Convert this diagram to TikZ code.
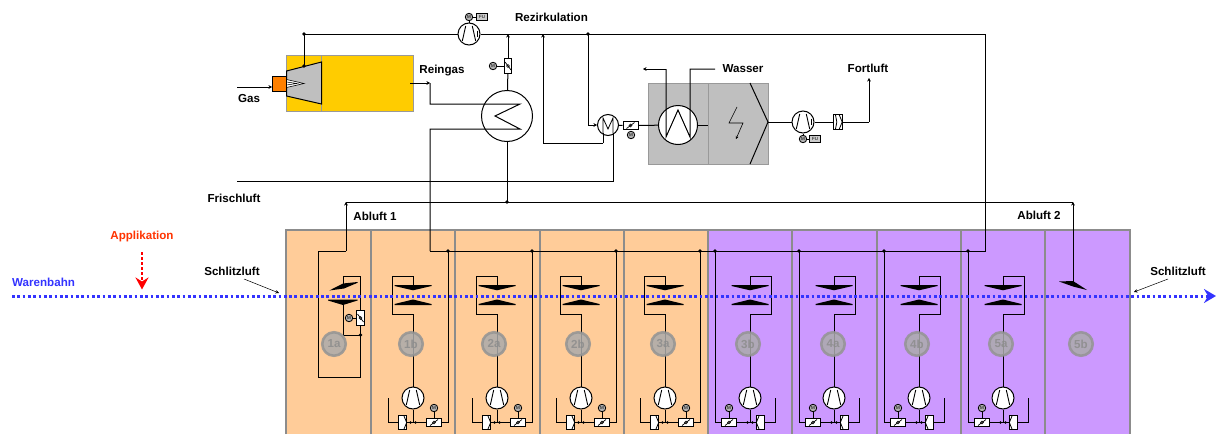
\documentclass[tikz,border=0pt]{standalone}
\usepackage{fontspec}
\setmainfont{Liberation Sans}
\usepackage{xcolor}
\usetikzlibrary{arrows.meta,calc}

\definecolor{zoneorange}{HTML}{FFCC99}
\definecolor{zonepurple}{HTML}{CC99FF}
\definecolor{burneryellow}{HTML}{FFCC00}
\definecolor{webblue}{HTML}{3333FF}
\definecolor{appred}{HTML}{FF3300}

\tikzset{
	pipe/.style={line width=1pt},
	flow/.style={line width=1pt,-{Stealth[length=3.5pt,width=3.8pt]}},
	joint/.style={circle,fill=black,inner sep=0pt,minimum size=3.6pt},
	lbl/.style={font=\bfseries\fontsize{11.6}{13}\selectfont,inner sep=0pt},
	zonebox/.style={draw=black!45,line width=1.3pt},
	unitbox/.style={draw=black!40,line width=1pt,fill=black!25},
	exchanger/.style={circle,draw,fill=white,line width=1pt,inner sep=0pt,minimum size=#1},
	blower/.style={circle,draw,fill=white,line width=1pt,inner sep=0pt,minimum size=22pt,
		path picture={\begin{scope}[shift={(path picture bounding box.center)},rotate=#1]
			\draw[line width=0.9pt] (-3.3,-8) -- (-6.7,7) (3.3,-8) -- (6.7,7);
		\end{scope}}},
	blower/.default=0,
	motor/.style={circle,draw,fill=black!30,line width=0.8pt,inner sep=0pt,minimum size=7.5pt,
		font=\fontsize{4.5}{5}\selectfont},
	fubox/.style={draw,fill=black!20,line width=0.6pt,inner sep=0pt,minimum width=11pt,minimum height=7pt,
		font=\fontsize{4.5}{5}\selectfont},
	damperh/.style={rectangle,draw,fill=white,line width=1pt,inner sep=0pt,minimum width=15pt,minimum height=7.5pt,
		path picture={\draw[line width=0.7pt] ($(path picture bounding box.center)+(-4,3)$) -- ($(path picture bounding box.center)+(4,-3)$);
			\draw[line width=0.6pt] (path picture bounding box.center) circle (1.5pt);}},
	damperv/.style={rectangle,draw,fill=white,line width=1pt,inner sep=0pt,minimum width=7.5pt,minimum height=14.5pt,
		path picture={\draw[line width=0.7pt] ($(path picture bounding box.center)+(-3,-4)$) -- ($(path picture bounding box.center)+(3,4)$);
			\draw[line width=0.6pt] (path picture bounding box.center) circle (1.5pt);}},
	chevbox/.style={rectangle,draw,fill=white,line width=1pt,inner sep=0pt,minimum width=8.5pt,minimum height=14.5pt,
		path picture={\draw[line width=0.8pt] ($(path picture bounding box.center)+({#1*1.2},-7.2)$) -- ($(path picture bounding box.center)+({#1*4.2},0)$) -- ($(path picture bounding box.center)+({#1*1.2},7.2)$);}},
	zonemark/.style={circle,draw=black!42,fill=black!33,line width=2.6pt,opacity=.85,inner sep=0pt,minimum size=23.5pt,
		text=black!45,font=\bfseries\fontsize{11.6}{13}\selectfont}
}

\begin{document}
\begin{tikzpicture}[x=1pt,y=-1pt]
	\useasboundingbox (0,0) rectangle (1216,434);
	
	% Zones below the web
	\fill[zoneorange] (286,230) rectangle (708,434);
	\fill[zonepurple] (708,230) rectangle (1130,434);
	\draw[zonebox] (286,434) -- (286,230) -- (1130,230) -- (1130,434);
	\foreach \zx in {371,455,540,624,708,792,877,961,1045}
		\draw[zonebox] (\zx,230) -- (\zx,434);
	
	% Burner chamber
	\draw[draw=black!40,line width=1pt,fill=burneryellow] (286.5,55) rectangle (413,111);
	\draw[black!40,line width=1pt] (321.5,55) -- (321.5,111);
	\draw[line width=1pt,fill=black!25] (286.5,71) -- (321.5,62) -- (321.5,104) -- (286.5,96) -- cycle;
	\node[draw,fill=orange,line width=1pt,inner sep=0pt,minimum width=14pt,minimum height=15pt] (burner) at (279.5,83.5) {};
	\draw[line width=0.6pt,fill=white] (286.5,79.5) -- (304,83.5) -- (286.5,87.5) -- cycle;
	\draw[line width=0.5pt] (286.5,82) -- (297,83.5) -- (286.5,85);
	\coordinate (gasIn) at (237,87);
	\draw[flow] (gasIn) -- (burner.west |- gasIn);
	
	% Recirculation line with fan
	\coordinate (recA) at (304,34);
	\coordinate (recB) at (304,66);
	\coordinate (recC) at (985,34);
	\coordinate (recD) at (985,251);
	\coordinate (recE) at (430,251);
	\node[blower=-90] (fanrec) at (469,34) {};
	\node[motor] (motrec) at (469,17) {M};
	\node[fubox] (furec) at (482,17) {FU};
	\draw[pipe] (recB) -- (recA) -- (fanrec) -- (recC) -- (recD) -- (recE);
	\draw[pipe] (motrec) -- (fanrec);
	\draw[pipe] (motrec) -- (furec);
	\draw[line width=0.8pt] ($(fanrec)+(8,-3.3)$) -- ($(fanrec)+(8,3.3)$);
	\node[joint] at (recA) {};
	\node[joint] at (recB) {};
	
	% Main heat exchanger
	\node[exchanger=51pt] (hx) at (507,116) {};
	\node[damperv] (dmphx) at (508,66) {};
	\node[motor] (mothx) at (493,66) {M};
	\coordinate (hxTop) at (508,34);
	\coordinate (hxBot) at (507,202);
	\coordinate (reinA) at (410,83);
	\coordinate (reinB) at (430,83);
	\draw[flow] (reinA) -- (reinB);
	\draw[pipe] (reinB) -- (430,104) -- (520,104) -- (495,116) -- (520,129) -- (430,129) -- (recE);
	\draw[pipe] (hx) -- (dmphx);
	\draw[flow] (dmphx) -- (hxTop);
	\draw[pipe] (mothx) -- (dmphx);
	\draw[pipe] (hx) -- (hxBot);
	
	% Branches from the recirculation line to the small exchanger
	\node[exchanger=21pt] (hxs) at (608,125) {};
	\draw[line width=0.8pt] (603,133) -- (603,118) -- (608,129) -- (613,118) -- (613,133);
	\coordinate (byA) at (543,34);
	\coordinate (byB) at (543,143);
	\coordinate (byC) at (603,143);
	\coordinate (byD) at (588,34);
	\coordinate (byE) at (588,125);
	\draw[flow] (byC) -- (byB) -- (byA);
	\draw[pipe] (hxs.south west -| byC) -- (byC);
	\draw[flow] (byD) -- (byE) -- (hxs.west);
	\node[joint] at (byD) {};
	
	% Fresh air
	\coordinate (frischA) at (237,181);
	\coordinate (frischB) at (613,181);
	\draw[pipe] (frischA) -- (frischB) -- (hxs.south east -| frischB);
	
	% Scrubber with water exchanger and filter
	\draw[unitbox] (648,83) rectangle (708,164);
	\draw[unitbox] (708,83) rectangle (768,164);
	\draw[line width=1pt] (750,83) -- (768,122) -- (750,164);
	\draw[line width=0.6pt,-{Stealth[length=3pt,width=3pt]}] (737,107) -- (729,123) -- (743,123) -- (736,139);
	\node[exchanger=39pt] (hxw) at (678,125) {};
	\node[damperh] (dmpw) at (630.5,125.5) {};
	\node[motor] (motw) at (631,135) {M};
	\coordinate (wasA) at (643,69);
	\coordinate (wasB) at (666,69);
	\coordinate (wasC) at (690,69);
	\coordinate (wasD) at (715,69);
	\draw[pipe] (hxs) -- (dmpw);
	\draw[pipe] (dmpw) -- (hxw);
	\draw[pipe] (hxw) -- (708,125);
	\draw[pipe] (wasD) -- (wasC) -- (690,137) -- (678,110) -- (666,137) -- (wasB);
	\draw[flow] (wasB) -- (wasA);
	
	% Exhaust
	\node[blower=-90] (fanfort) at (803,122) {};
	\node[motor] (motfort) at (803,139) {M};
	\node[fubox] (fufort) at (815,139) {FU};
	\node[chevbox=1] (silfort) at (838,122) {};
	\draw[line width=0.8pt] (835.5,115) -- (836.8,122) -- (835.5,129);
	\coordinate (fortA) at (869,122);
	\coordinate (fortB) at (869,78);
	\draw[pipe] (768,122) -- (fanfort);
	\draw[pipe] (fanfort) -- (silfort);
	\draw[pipe] (motfort) -- (fanfort);
	\draw[pipe] (motfort) -- (fufort);
	\draw[line width=0.8pt] ($(fanfort)+(8,-3.3)$) -- ($(fanfort)+(8,3.3)$);
	\draw[pipe] (silfort) -- (fortA);
	\draw[flow] (fortA) -- (fortB);
	
	% Exhaust collectors
	\coordinate (ablA) at (346,202);
	\coordinate (ablB) at (1073,202);
	\coordinate (ablC) at (1073,284);
	\coordinate (ablD) at (346,251);
	\draw[pipe] (ablA) -- (ablB);
	\draw[flow] (ablC) -- (ablB);
	\node[joint] at (hxBot) {};
	
	% Zone 1a
	\node[damperv] (dmp1a) at (360.5,318) {};
	\node[motor] (mot1a) at (349,318) {M};
	\coordinate (boxA) at (343,276);
	\coordinate (boxB) at (360.5,276);
	\coordinate (boxC) at (343,335);
	\coordinate (boxD) at (360.5,335);
	\coordinate (boxE) at (360.5,377);
	\coordinate (boxF) at (318,377);
	\coordinate (boxG) at (318,251);
	\draw[flow] (ablD) -- (ablA);
	\draw[pipe] (ablD) -- (boxG) -- (boxF) -- (boxE) -- (boxD) -- (dmp1a) -- (boxB) -- (boxA) -- (343,285);
	\draw[pipe] (343,304) -- (boxC) -- (boxD);
	\draw[pipe] (mot1a) -- (dmp1a);
	\node[joint] at (boxD) {};
	\fill (329.3,290.5) -- (343,283.5) -- (357.5,282) -- (357.5,282.8) -- (344,288.5) -- cycle;
	\fill (328,299.5) -- (357.5,299.5) -- (357.5,300.5) -- (343,305) -- (328,300.5) -- cycle;
	
	% Zones 1b to 5a
	\foreach \zn/\sx/\flip in {1b/413/1,2a/497/1,2b/581/1,3a/665/1,3b/750/-1,4a/834/-1,4b/919/-1,5a/1003/-1}{
		\coordinate (top\zn) at (\sx,276);
		\coordinate (foot\zn) at (\sx,422.5);
		\coordinate (main\zn) at ({\sx+\flip*35},251);
		\coordinate (low\zn) at ({\sx+\flip*35},422.5);
		\coordinate (end\zn) at ({\sx-\flip*25},422.5);
		\coordinate (up\zn) at ({\sx-\flip*25},398);
		\node[blower] (fan\zn) at (\sx,398) {};
		\node[damperh] (dmp\zn) at ({\sx+\flip*21},422.5) {};
		\node[motor] (mot\zn) at ({\sx+\flip*21},408) {M};
		\node[chevbox=\flip] (chv\zn) at ({\sx-\flip*10.5},422.5) {};
		\draw[pipe] (\sx,289) -- (top\zn) -- ++({-\flip*21},0) -- ++(0,38) -- ++({\flip*21},0) -- (fan\zn);
		\draw[pipe] (fan\zn) -- (foot\zn);
		\draw[pipe] (mot\zn) -- (dmp\zn);
		\draw[pipe] (chv\zn) -- (dmp\zn);
		\draw[pipe] (dmp\zn) -- (low\zn) -- (main\zn);
		\draw[pipe] (chv\zn) -- (end\zn) -- (up\zn);
		\node[joint] at (main\zn) {};
		\node[joint,minimum size=2.8pt] at ({\sx-2.5},422.5) {};
		\node[joint,minimum size=2.8pt] at ({\sx+2.5},422.5) {};
		\fill (\sx-18.5,285) -- (\sx+18.5,285) -- (\sx+18.5,286) -- (\sx,290.3) -- (\sx-18.5,286) -- cycle;
		\fill (\sx-18.5,305) -- (\sx+18.5,305) -- (\sx+18.5,304) -- (\sx,299.5) -- (\sx-18.5,304) -- cycle;
	}
	
	% Zone 5b
	\fill (1059,281.5) -- (1073,281) -- (1087,290) -- (1073,286.5) -- cycle;
	
	% Web and application
	\coordinate (webA) at (12,296);
	\coordinate (webB) at (1216,296);
	\draw[webblue,line width=3pt,dash pattern=on 2.7pt off 2.63pt,-{Stealth[length=12pt,width=14pt,inset=4pt]}] (webA) -- (webB);
	\coordinate (appA) at (142,252);
	\coordinate (appB) at (142,289.5);
	\draw[red,line width=2.6pt,dash pattern=on 2.5pt off 2.5pt,-{Stealth[length=12pt,width=13pt,inset=4pt]}] (appA) -- (appB);
	
	% Zone marks
	\node[zonemark] (mark1a) at (334,344) {1a};
	\foreach \zn/\mx in {1b/411,2a/494,2b/578,3a/663,3b/748,4a/833,4b/917,5a/1001,5b/1081}
		\node[zonemark] (mark\zn) at (\mx,344) {\zn};
	
	% Labels
	\node[lbl] (lblgas) at (249,99) {Gas};
	\node[lbl] (lblrein) at (442,71) {Reingas};
	\node[lbl] (lblrez) at (551.5,17) {Rezirkulation};
	\node[lbl] (lblwas) at (743,69) {Wasser};
	\node[lbl] (lblfort) at (868,68) {Fortluft};
	\node[lbl] (lblfrisch) at (234,198) {Frischluft};
	\node[lbl] (lblab1) at (375,216) {Abluft 1};
	\node[lbl] (lblab2) at (1039,215) {Abluft 2};
	\node[lbl,text=appred] (lblapp) at (142,236) {Applikation};
	\node[lbl,text=webblue,anchor=west] (lblweb) at (12,282) {Warenbahn};
	\node[lbl] (lblschl) at (232,271) {Schlitzluft};
	\node[lbl] (lblschr) at (1178,271) {Schlitzluft};
	\coordinate (schlA) at (244,279);
	\coordinate (schlB) at (279,293);
	\coordinate (schrA) at (1168,279);
	\coordinate (schrB) at (1134,292);
	\draw[line width=0.5pt,-{Stealth[length=3.5pt,width=3.5pt]}] (schlA) -- (schlB);
	\draw[line width=0.5pt,-{Stealth[length=3.5pt,width=3.5pt]}] (schrA) -- (schrB);
	
\end{tikzpicture}
\end{document}
